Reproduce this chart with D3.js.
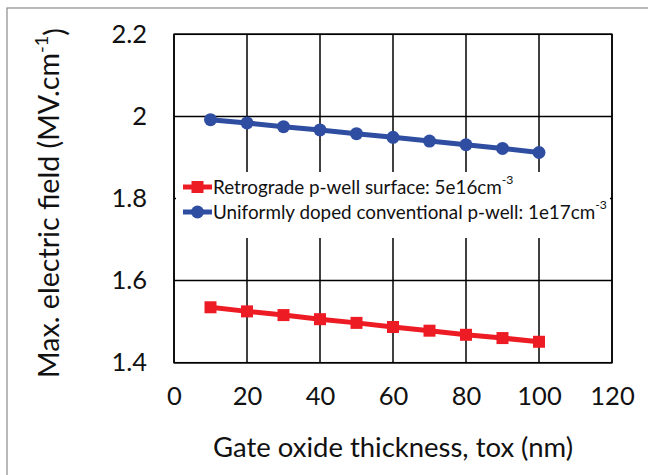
<!DOCTYPE html>
<html><head><meta charset="utf-8">
<script src="https://cdn.jsdelivr.net/npm/d3@7"></script>
<style>body{margin:0;background:#fff}svg{display:block}text{font-family:Lato,"Open Sans",sans-serif;fill:#111}</style>
</head><body>
<svg id="c" width="648" height="475"></svg>
<script>
const thickness = [10,20,30,40,50,60,70,80,90,100];
const retrograde = [1.535,1.525,1.516,1.506,1.497,1.487,1.478,1.468,1.460,1.451];
const uniform = [1.992,1.984,1.975,1.967,1.958,1.949,1.940,1.931,1.922,1.912];
const xTicks = [0,20,40,60,80,100,120];
const yTicks = [1.4,1.6,1.8,2.0,2.2];
const seriesNames = ["Retrograde p-well surface: 5e16cm", "Uniformly doped conventional p-well: 1e17cm"];

const svg = d3.select("#c");
const L=174, R=612, T=34.3, B=362.7;
const x = d3.scaleLinear().domain([0,120]).range([L,R]);
const y = d3.scaleLinear().domain([1.4,2.2]).range([B,T]);

function fit(sel, target, horiz=true){
  const n = sel.node(); const fs = +sel.attr("font-size");
  const bb = n.getBBox(); const w = horiz ? bb.width : bb.width;
  const s = target / w;
  sel.attr("font-size", fs*s);
  sel.selectAll("tspan").each(function(){const t=d3.select(this); if(t.attr("font-size")) t.attr("font-size", +t.attr("font-size")*s);});
}

// outer border
svg.append("rect").attr("x",7).attr("y",8).attr("width",700).attr("height",600)
  .attr("fill","none").attr("stroke","#8a8a8a").attr("stroke-width",1.2);

// gridlines
const g = svg.append("g");
g.selectAll(".vx").data(xTicks).join("line").attr("x1",d=>x(d)).attr("x2",d=>x(d))
  .attr("y1",T).attr("y2",B).attr("stroke","#000").attr("stroke-width",1.5);
g.selectAll(".hy").data(yTicks).join("line").attr("y1",d=>y(d)).attr("y2",d=>y(d))
  .attr("x1",L).attr("x2",R).attr("stroke","#000").attr("stroke-width",1.5);

// legend background
svg.append("rect").attr("x",176).attr("y",172).attr("width",434).attr("height",66).attr("fill","#fff");
// frame
svg.append("rect").attr("x",L).attr("y",T).attr("width",R-L).attr("height",B-T)
  .attr("fill","none").attr("stroke","#000").attr("stroke-width",1.5);

// axes labels via d3 axes
const xa = svg.append("g").attr("transform",`translate(0,${B})`)
  .call(d3.axisBottom(x).tickValues(xTicks).tickSize(0).tickPadding(28).tickFormat(d3.format("d")));
const ya = svg.append("g").attr("transform",`translate(${L},0)`)
  .call(d3.axisLeft(y).tickValues(yTicks).tickSize(0).tickPadding(27).tickFormat(d=>d3.format("")(+d.toFixed(1))));
[xa,ya].forEach(a=>{a.select(".domain").remove();a.selectAll("text").attr("font-size",25.5).attr("fill","#111").style("font-family","Lato,sans-serif");});
xa.selectAll("text").attr("dy","0.55em");

// series
const colors = ["#ED1C24","#2F4EA2"];
const data = [retrograde, uniform];
const line = d3.line().x((d,i)=>x(thickness[i])).y(d=>y(d));
data.forEach((s,k)=>{
  svg.append("path").datum(s).attr("d",line).attr("fill","none").attr("stroke",colors[k]).attr("stroke-width",5);
  if(k===0){
    svg.selectAll(".sq").data(s).join("rect").attr("x",(d,i)=>x(thickness[i])-6).attr("y",d=>y(d)-6)
      .attr("width",12).attr("height",12).attr("fill",colors[k]);
  } else {
    svg.selectAll(".ci").data(s).join("circle").attr("cx",(d,i)=>x(thickness[i])).attr("cy",d=>y(d))
      .attr("r",6.5).attr("fill",colors[k]);
  }
});

// legend
const ly=[187,212];
const lt=[];
seriesNames.forEach((n,k)=>{
  svg.append("line").attr("x1",183).attr("x2",212).attr("y1",ly[k]).attr("y2",ly[k]).attr("stroke",colors[k]).attr("stroke-width",5);
  if(k===0) svg.append("rect").attr("x",191.5).attr("y",ly[k]-6).attr("width",12).attr("height",12).attr("fill",colors[k]);
  else svg.append("circle").attr("cx",197.5).attr("cy",ly[k]).attr("r",6.5).attr("fill",colors[k]);
  const t = svg.append("text").attr("x",213).attr("y",ly[k]).attr("dy","0.35em").attr("font-size",17);
  t.append("tspan").text(n);
  t.append("tspan").text("-3").attr("font-size",11).attr("dy","-0.75em");
  lt.push(t);
});
// scale legend so the longer entry spans the reference width
{
  const w = lt[1].node().getBBox().width, s = 394/w;
  lt.forEach(t=>{t.attr("font-size",17*s); t.select("tspan:last-child").attr("font-size",11*s);});
}

// axis titles
const xt = svg.append("text").attr("x",(L+R)/2).attr("y",447).attr("dy","0.35em").attr("text-anchor","middle")
  .attr("font-size",22).text("Gate oxide thickness, tox (nm)");
fit(xt, 360);
const yt = svg.append("text").attr("transform",`translate(49,203) rotate(-90)`).attr("dy","0.35em")
  .attr("text-anchor","middle").attr("font-size",22);
yt.append("tspan").text("Max. electric field (MV.cm");
yt.append("tspan").text("-1").attr("font-size",14).attr("dy","-0.6em");
yt.append("tspan").text(")").attr("dy","0.6em");
fit(yt, 350);
</script>
</body></html>
